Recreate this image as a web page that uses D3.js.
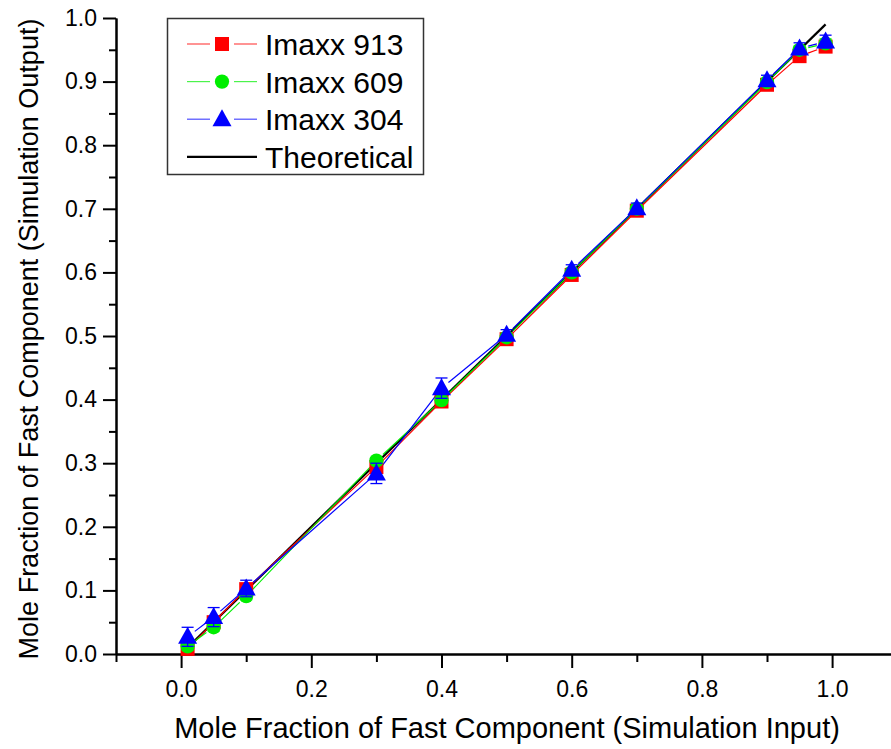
<!DOCTYPE html>
<html>
<head>
<meta charset="utf-8">
<script src="https://cdn.jsdelivr.net/npm/d3@7"></script>
<style>
  body { margin: 0; background: #fff; }
  svg { display: block; font-family: "Liberation Sans", Arial, sans-serif; }
</style>
</head>
<body>
<svg id="chart" width="891" height="749"></svg>
<script>
// input mole fractions (x)
const inputs = [0.01, 0.05, 0.1, 0.3, 0.4, 0.5, 0.6, 0.7, 0.9, 0.95, 0.99];

// simulation output per series
const imaxx913 = [0.008, 0.050, 0.102, 0.294, 0.397, 0.495, 0.596, 0.697, 0.895, 0.940, 0.955];
const imaxx609 = [0.012, 0.042, 0.091, 0.304, 0.399, 0.498, 0.600, 0.700, 0.899, 0.950, 0.960];
const imaxx304 = [0.027, 0.058, 0.103, 0.284, 0.418, 0.502, 0.604, 0.701, 0.902, 0.952, 0.963];

// error bar half-widths
const err913 = [0.005, 0.005, 0.006, 0.005, 0.005, 0.005, 0.005, 0.005, 0.006, 0.006, 0.008];
const err609 = [0.006, 0.006, 0.006, 0.005, 0.005, 0.005, 0.005, 0.005, 0.006, 0.006, 0.007];
const err304 = [0.015, 0.015, 0.013, 0.016, 0.016, 0.008, 0.008, 0.008, 0.008, 0.009, 0.010];

const theoretical = [0.01, 0.99];

const seriesNames = ["Imaxx 913", "Imaxx 609", "Imaxx 304"];
const xTicksMajor = [0, 0.2, 0.4, 0.6, 0.8, 1.0];
const xTicksMinor = [-0.1, 0.1, 0.3, 0.5, 0.7, 0.9, 1.1];
const yTicksMajor = d3.range(0, 11).map(i => i / 10);
const yTicksMinor = d3.range(0, 10).map(i => i / 10 + 0.05);

const svg = d3.select("#chart");

const x = d3.scaleLinear().domain([-0.1, 1.1]).range([116, 897.2]);
const y = d3.scaleLinear().domain([0, 1]).range([654, 18]);

const series = [
  { name: seriesNames[0], vals: imaxx913, err: err913, color: "#ff0000", shape: "square" },
  { name: seriesNames[1], vals: imaxx609, err: err609, color: "#00ee00", shape: "circle" },
  { name: seriesNames[2], vals: imaxx304, err: err304, color: "#0000ff", shape: "triangle" }
];

// marker path centred on 0,0
function markerPath(shape) {
  if (shape === "square") return "M-7,-7H7V7H-7Z";
  if (shape === "circle") return d3.symbol(d3.symbolCircle, 160)();
  return "M0,-10L9.5,7H-9.5Z";
}

// axes
const xMinor = d3.axisBottom(x).tickValues(xTicksMinor).tickSize(8).tickSizeOuter(0).tickFormat("");
const xMajor = d3.axisBottom(x).tickValues(xTicksMajor).tickSize(14).tickSizeOuter(0)
  .tickPadding(13).tickFormat(d3.format(".1f"));
const yMinor = d3.axisLeft(y).tickValues(yTicksMinor).tickSize(7).tickSizeOuter(0).tickFormat("");
const yMajor = d3.axisLeft(y).tickValues(yTicksMajor).tickSize(13).tickSizeOuter(0)
  .tickPadding(6).tickFormat(d3.format(".1f"));

const gx = svg.append("g").attr("transform", `translate(0,${y(0)})`);
gx.append("g").call(xMinor);
gx.append("g").call(xMajor);
const gy = svg.append("g").attr("transform", `translate(${x(-0.1)},0)`);
gy.append("g").call(yMinor);
gy.append("g").call(yMajor);

svg.selectAll(".domain").attr("stroke", "#000").attr("stroke-width", 2);
svg.selectAll(".tick line").attr("stroke", "#000").attr("stroke-width", 2);
svg.selectAll(".tick text").attr("font-size", 23).attr("fill", "#000")
  .attr("font-family", "Liberation Sans, Arial, sans-serif");

// axis titles
svg.append("text")
  .attr("x", 507).attr("y", 738)
  .attr("text-anchor", "middle")
  .attr("font-size", 29)
  .text("Mole Fraction of Fast Component (Simulation Input)");

svg.append("text")
  .attr("transform", `translate(38,339) rotate(-90)`)
  .attr("text-anchor", "middle")
  .attr("font-size", 27)
  .text("Mole Fraction of Fast Component (Simulation Output)");

const plot = svg.append("g");

// theoretical line
plot.append("line")
  .attr("x1", x(theoretical[0])).attr("y1", y(theoretical[0]))
  .attr("x2", x(theoretical[1])).attr("y2", y(theoretical[1]))
  .attr("stroke", "#000").attr("stroke-width", 2.2);

// connecting lines stop short of the markers
const gap = 9;
series.forEach(s => {
  const g = plot.append("g");
  const pts = inputs.map((v, i) => [x(v), y(s.vals[i])]);
  for (let i = 0; i < pts.length - 1; i++) {
    const [x1, y1] = pts[i], [x2, y2] = pts[i + 1];
    const len = Math.hypot(x2 - x1, y2 - y1);
    if (len <= gap * 2) continue;
    const ux = (x2 - x1) / len, uy = (y2 - y1) / len;
    g.append("line")
      .attr("x1", x1 + ux * gap).attr("y1", y1 + uy * gap)
      .attr("x2", x2 - ux * gap).attr("y2", y2 - uy * gap)
      .attr("stroke", s.color).attr("stroke-width", 1.2);
  }
});

// markers then error bars, series by series
series.forEach(s => {
  const g = plot.append("g");
  g.selectAll("path.mk")
    .data(inputs)
    .join("path")
    .attr("class", "mk")
    .attr("d", markerPath(s.shape))
    .attr("transform", (d, i) => `translate(${x(d)},${y(s.vals[i])})`)
    .attr("fill", s.color);

  const eb = g.selectAll("g.eb")
    .data(inputs)
    .join("g")
    .attr("class", "eb")
    .attr("stroke", s.color)
    .attr("stroke-width", 1.3);
  eb.append("line")
    .attr("x1", d => x(d)).attr("x2", d => x(d))
    .attr("y1", (d, i) => y(s.vals[i] + s.err[i]))
    .attr("y2", (d, i) => y(s.vals[i] - s.err[i]));
  [1, -1].forEach(sign => {
    eb.append("line")
      .attr("x1", d => x(d) - 6).attr("x2", d => x(d) + 6)
      .attr("y1", (d, i) => y(s.vals[i] + sign * s.err[i]))
      .attr("y2", (d, i) => y(s.vals[i] + sign * s.err[i]));
  });
});

// legend
const legend = svg.append("g");
legend.append("rect")
  .attr("x", 167.5).attr("y", 18.5).attr("width", 256).attr("height", 156)
  .attr("fill", "#fff").attr("stroke", "#333").attr("stroke-width", 1.5);

const rows = [...series, { name: "Theoretical", color: "#000", shape: null }];
rows.forEach((s, i) => {
  const cy = 44 + i * 37.6;
  const row = legend.append("g").attr("transform", `translate(0,${cy})`);
  if (s.shape) {
    row.append("line").attr("x1", 187).attr("x2", 210).attr("y1", 0).attr("y2", 0)
      .attr("stroke", s.color).attr("stroke-width", 1.2).attr("opacity", 0.7);
    row.append("line").attr("x1", 234).attr("x2", 257).attr("y1", 0).attr("y2", 0)
      .attr("stroke", s.color).attr("stroke-width", 1.2).attr("opacity", 0.7);
    row.append("path").attr("d", markerPath(s.shape))
      .attr("transform", "translate(222,0)").attr("fill", s.color);
  } else {
    row.append("line").attr("x1", 187).attr("x2", 257).attr("y1", 0).attr("y2", 0)
      .attr("stroke", "#000").attr("stroke-width", 2.2);
  }
  row.append("text")
    .attr("x", 265).attr("y", 11)
    .attr("font-size", 30)
    .text(s.name);
});
</script>
</body>
</html>
